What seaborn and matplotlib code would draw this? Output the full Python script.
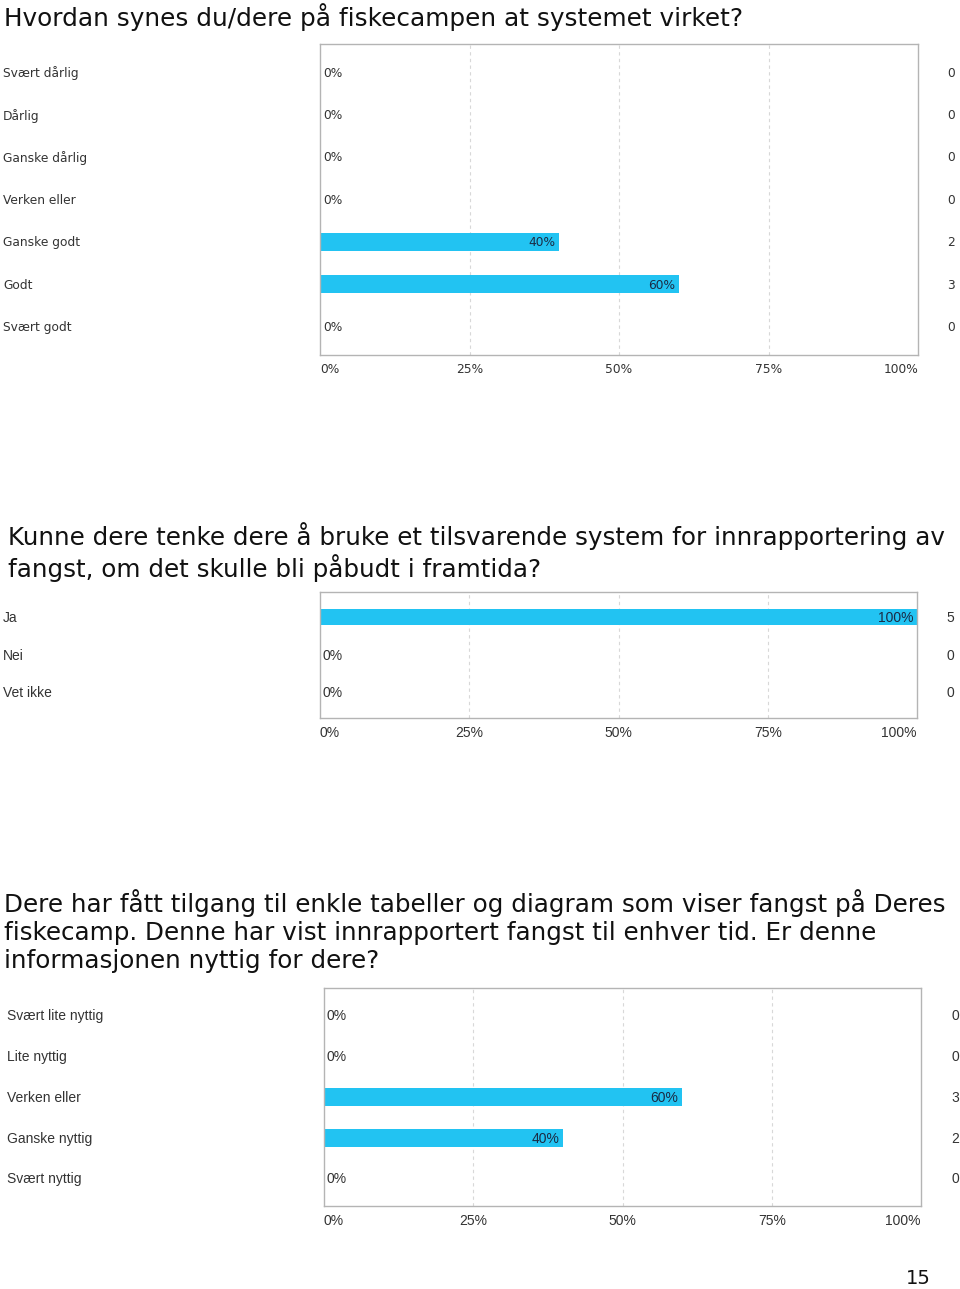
import matplotlib
matplotlib.use("Agg")
import matplotlib.pyplot as plt
import matplotlib.transforms as mtransforms
import numpy as np
import pandas as pd
import seaborn as sns

# survey answers (counts per option)
cats1 = ["Svært dårlig", "Dårlig", "Ganske dårlig", "Verken eller",
         "Ganske godt", "Godt", "Svært godt"]
counts1 = [0, 0, 0, 0, 2, 3, 0]

cats2 = ["Ja", "Nei", "Vet ikke"]
counts2 = [5, 0, 0]

cats3 = ["Svært lite nyttig", "Lite nyttig", "Verken eller",
         "Ganske nyttig", "Svært nyttig"]
counts3 = [0, 0, 3, 2, 0]

titles = [
    "Hvordan synes du/dere på fiskecampen at systemet virket?",
    "Kunne dere tenke dere å bruke et tilsvarende system for innrapportering av\n"
    "fangst, om det skulle bli påbudt i framtida?",
    "Dere har fått tilgang til enkle tabeller og diagram som viser fangst på Deres\n"
    "fiskecamp. Denne har vist innrapportert fangst til enhver tid. Er denne\n"
    "informasjonen nyttig for dere?",
]
xticks = [0, 25, 50, 75, 100]
xtick_labels = ["0%", "25%", "50%", "75%", "100%"]

BAR = "#22c3f2"
W, H = 960, 1289

sns.set_theme(style="white")
plt.rcParams["font.family"] = ["DejaVu Sans"]

fig = plt.figure(figsize=(W / 100, H / 100), dpi=100)


def fx(px):
    return px / W


def fy(py):
    return 1 - py / H


def survey_bar(rect, cats, counts, label_x, count_x, family, size):
    ax = fig.add_axes(rect)
    counts = np.array(counts)
    pct = counts / counts.sum() * 100
    df = pd.DataFrame({"cat": cats, "pct": pct, "n": counts})
    sns.barplot(ax=ax, data=df, x="pct", y="cat", orient="h", color=BAR,
                width=0.43, saturation=1, edgecolor="none")
    pad = 0.67
    ax.set_ylim(len(cats) - 1 + pad, -pad)
    ax.set_xlim(0, 100)
    ax.set_xlabel("")
    ax.set_ylabel("")
    ax.set_yticks([])
    ax.set_xticks(xticks)
    ax.set_xticklabels(xtick_labels, family=family, fontsize=size, color="#333333")
    tl = ax.get_xticklabels()
    tl[0].set_ha("left")
    tl[-1].set_ha("right")
    ax.tick_params(axis="x", length=0, pad=6)
    for x in xticks[1:-1]:
        ax.axvline(x, color="#d8d8d8", lw=0.8, ls=(0, (3, 3)), zorder=0)
    for s in ax.spines.values():
        s.set_color("#b4b4b4")
        s.set_linewidth(1.0)

    trans = mtransforms.blended_transform_factory(fig.transFigure, ax.transData)
    for i, row in df.iterrows():
        ax.text(fx(label_x), i + 0.02, row["cat"], transform=trans, ha="left",
                va="center", family=family, fontsize=size, color="#333333")
        ax.text(fx(count_x), i + 0.02, str(row["n"]), transform=trans, ha="center",
                va="center", family=family, fontsize=size, color="#333333")
        if row["pct"] > 0:
            ax.text(row["pct"] - 0.6, i + 0.02, f"{row['pct']:.0f}%", ha="right",
                    va="center", family=family, fontsize=size, color="#1b2b44")
        else:
            ax.text(0.5, i + 0.02, "0%", ha="left", va="center", family=family,
                    fontsize=size, color="#333333")
    return ax


narrow = ["Liberation Sans Narrow", "Liberation Sans", "DejaVu Sans"]

survey_bar([fx(320), fy(355), fx(598), (355 - 44) / H], cats1, counts1,
           3, 951, ["DejaVu Sans"], 8.8)
survey_bar([fx(320), fy(718), fx(597), (718 - 592) / H], cats2, counts2,
           3, 950, narrow, 10)
survey_bar([fx(324), fy(1206), fx(597), (1206 - 988) / H], cats3, counts3,
           7, 955, narrow, 10)

fig.text(fx(4), fy(17), titles[0], ha="left", va="center", fontsize=17.8,
         color="#111111")
fig.text(fx(8), fy(552), titles[1], ha="left", va="center", fontsize=17.7,
         color="#111111", linespacing=1.2)
fig.text(fx(4), fy(931), titles[2], ha="left", va="center", fontsize=17.7,
         color="#111111", linespacing=1.2)
fig.text(fx(918), fy(1278), "15", ha="center", va="center", fontsize=14,
         color="#111111")

fig.savefig("out.png", dpi=100)
